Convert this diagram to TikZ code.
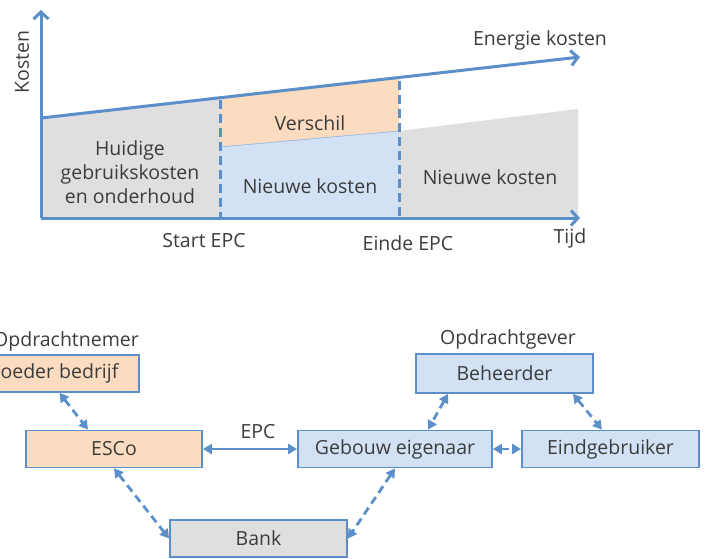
\documentclass[tikz,border=0pt]{standalone}
\usepackage{fontspec}
\setmainfont{Open Sans}
\usetikzlibrary{arrows.meta}
\definecolor{lineblue}{HTML}{5B8FC9}
\definecolor{boxblue}{HTML}{D2E2F4}
\definecolor{boxorange}{HTML}{FBDCC0}
\definecolor{boxgray}{HTML}{DFDFDF}
\definecolor{txt}{HTML}{3C3C3C}
\begin{document}
\begin{tikzpicture}[x=1pt,y=-1pt,
  font=\fontsize{19.5}{24}\selectfont, text=txt,
  axis/.style={draw=lineblue, line width=3pt, -{Straight Barb[length=7pt,width=15pt,line width=3pt]}},
  marker/.style={draw=lineblue, line width=3pt, dash pattern=on 9pt off 5pt},
  party/.style={draw=lineblue, line width=1.8pt, minimum height=37pt, inner sep=0pt},
  link/.style={draw=lineblue, line width=2.8pt, dash pattern=on 8pt off 5pt,
    {Triangle[length=9pt,width=10pt]}-{Triangle[length=9pt,width=10pt]}},
  deal/.style={draw=lineblue, line width=2.8pt,
    {Triangle[length=9pt,width=10pt]}-{Triangle[length=9pt,width=10pt]}}]
\useasboundingbox (0,0) rectangle (705,558);
\clip (0,0) rectangle (705,558);

% cost areas
\fill[boxgray] (41,118) -- (220,97.7) -- (220,218) -- (41,218) -- cycle;
\fill[boxorange] (220,97.7) -- (399,77.3) -- (399,131) -- (220,147) -- cycle;
\fill[boxblue] (220,147) -- (399,131) -- (399,218) -- (220,218) -- cycle;
\draw[lineblue!60, line width=0.8pt] (220,147) -- (399,131);
\fill[boxgray] (399,131) -- (578,109) -- (578,218) -- (399,218) -- cycle;

% start / end of contract
\draw[marker] (220,100) -- (220,218);
\draw[marker] (399,81) -- (399,218);

% axes and energy cost line
\draw[axis] (41,218) -- (41,10);
\draw[axis] (41,218) -- (580,218);
\draw[axis] (41,118) -- (580,57);

% chart labels
\node[rotate=90] (ylab) at (22,62) {Kosten};
\node (energy) at (540,40) {Energie kosten};
\node (verschil) at (310,123) {Verschil};
\node[align=center] (huidig) at (130,172) {Huidige\\gebruikskosten\\en onderhoud};
\node (nieuw1) at (310,186) {Nieuwe kosten};
\node (nieuw2) at (490,177) {Nieuwe kosten};
\node (start) at (204,241) {Start EPC};
\node (einde) at (408,243) {Einde EPC};
\node (tijd) at (570,238) {Tijd};

% parties
\node[anchor=east, inner xsep=0pt] (nemer) at (139,341) {Opdrachtnemer};
\node[party, fill=boxorange, minimum width=159pt, minimum height=37pt] (toe) at (59.5,373.5) {oeder bedrijf};
\node[party, fill=boxorange, minimum width=176pt] (esco) at (114,449) {ESCo};
\node[party, fill=boxblue, minimum width=194pt] (geb) at (395,449) {Gebouw eigenaar};
\node[party, fill=boxblue, minimum width=177pt] (eind) at (610.5,449) {Eindgebruiker};
\node[party, fill=boxblue, minimum width=177pt, minimum height=39pt] (beh) at (504.5,373.5) {Beheerder};
\node (gever) at (508,339) {Opdrachtgever};
\node[party, fill=boxgray, minimum width=177pt] (bank) at (258.5,538.5) {Bank};

% relations
\draw[deal] (esco.east) -- (geb.west);
\node (epc) at (258,432) {EPC};
\draw[link] (toe.south) -- ([xshift=-26pt]esco.north);
\draw[link] (esco.south) -- (bank.west);
\draw[link] (geb.south) -- (bank.east);
\draw[link] (geb.east) -- (eind.west);
\draw[link] ([xshift=-56.5pt]beh.south) -- ([xshift=33pt]geb.north);
\draw[link] ([xshift=68.5pt]beh.south) -- ([xshift=-8.5pt]eind.north);
\end{tikzpicture}
\end{document}
